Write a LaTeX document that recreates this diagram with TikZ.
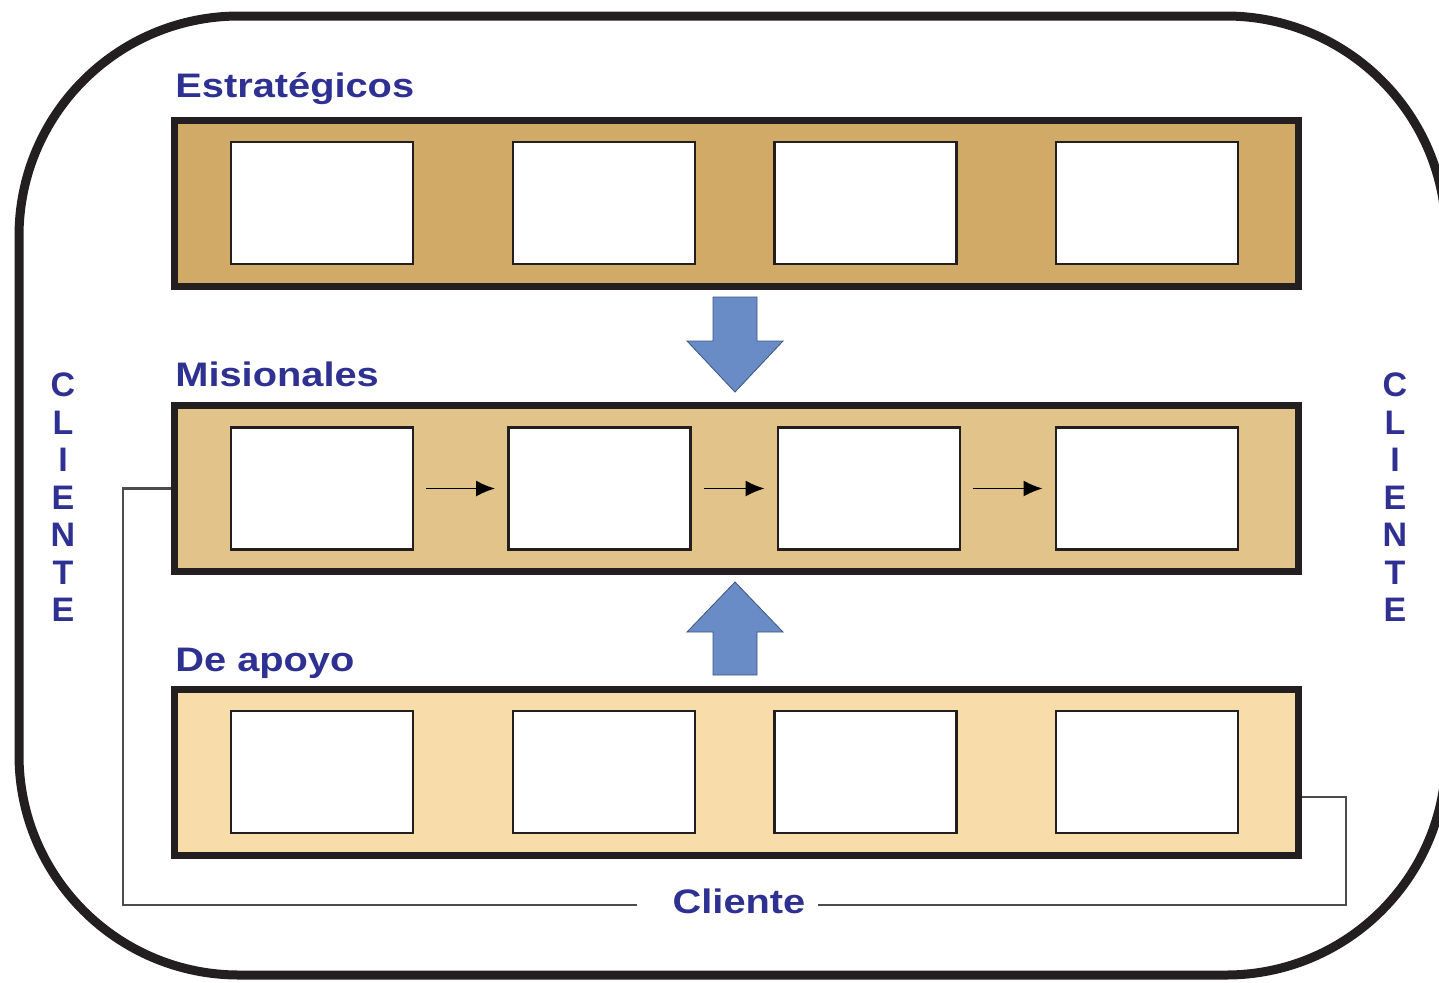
\documentclass[tikz,border=0pt]{standalone}
\usepackage{graphicx}
\usepackage{fontspec}
\setmainfont{Liberation Sans}
\usepackage{xcolor}
\usepackage{tikz}
\usetikzlibrary{arrows.meta}
\definecolor{AzulTexto}{RGB}{46,49,146}
\definecolor{AzulFlecha}{RGB}{106,140,198}
\definecolor{BordeFlecha}{RGB}{60,84,130}
\definecolor{OcreFuerte}{RGB}{210,170,104}
\definecolor{OcreMedio}{RGB}{226,196,138}
\definecolor{OcreClaro}{RGB}{248,220,170}
\definecolor{BordeOscuro}{RGB}{35,31,32}
\newcommand{\ancho}[1]{\scalebox{1.17}[1]{#1}}

\begin{document}
\begin{tikzpicture}[x=0.5pt,y=-0.5pt,>=Latex,
  barra/.style={draw=BordeOscuro,line width=3.5pt,minimum width=562pt,minimum height=83pt,inner sep=0pt},
  caja/.style={draw=BordeOscuro,fill=white,line width=1.4pt,minimum width=91pt,minimum height=61pt,inner sep=0pt},
  etiqueta/.style={font=\bfseries\fontsize{17}{20}\selectfont,text=AzulTexto,inner sep=0pt},
  flecha/.style={fill=AzulFlecha,draw=BordeFlecha,line width=0.4pt},
  enlace/.style={draw=black!70,line width=1.1pt}]
  \useasboundingbox (0,0) rectangle (1439,982);
  \clip (0,0) rectangle (1439,982);
  % marco exterior
  \draw[line width=4.5pt,BordeOscuro,rounded corners=110pt] (19,16) rectangle (1446,975);
  % franjas de procesos
  \node[barra,fill=OcreFuerte] (estr) at (736,203) {};
  \node[barra,fill=OcreMedio] (mis) at (736,488.5) {};
  \node[barra,fill=OcreClaro] (apoyo) at (736,772) {};
  \node[etiqueta,anchor=base west] (tEstr) at (175,97) {\ancho{Estratégicos}};
  \node[etiqueta,anchor=base west] (tMis) at (175,386) {\ancho{Misionales}};
  \node[etiqueta,anchor=base west] (tApoyo) at (175,671) {\ancho{De apoyo}};
  % cajas
  \foreach \x [count=\i] in {322,604,865.5,1147} {
    \node[caja] (e\i) at (\x,203) {};
    \node[caja] (a\i) at (\x,772) {};
  }
  \foreach \x [count=\i] in {322,599.5,869,1147}
    \node[caja] (m\i) at (\x,488.5) {};
  \foreach \i/\j in {1/2,2/3,3/4}
    \draw[line width=0.9pt,shorten <=6pt,shorten >=6pt,
      -{Latex[length=9.5pt,width=8pt]}] (m\i.east) -- (m\j.west);
  % flechas grandes
  \draw[flecha] (713,297) -- (757,297) -- (757,341) -- (783,341) -- (735,392)
    -- (687,341) -- (713,341) -- cycle;
  \draw[flecha] (713,675) -- (757,675) -- (757,632) -- (783,632) -- (735,582)
    -- (687,632) -- (713,632) -- cycle;
  % cliente
  \node[etiqueta,align=center,font=\bfseries\fontsize{17}{18.75}\selectfont] (cliIzq) at (63,497.5) {C\\L\\I\\E\\N\\T\\E};
  \node[etiqueta,align=center,font=\bfseries\fontsize{17}{18.75}\selectfont] (cliDer) at (1395,497.5) {C\\L\\I\\E\\N\\T\\E};
  \node[etiqueta,anchor=base] (cli) at (739,913) {\ancho{Cliente}};
  \coordinate (esqA) at (123,905);
  \coordinate (finA) at (637,905);
  \coordinate (iniB) at (818,905);
  \coordinate (esqB) at (1346,797);
  \draw[enlace] (mis.west) -| (esqA) -- (finA);
  \draw[enlace] (iniB) -| (esqB) -- (apoyo.east |- esqB);
\end{tikzpicture}
\end{document}
